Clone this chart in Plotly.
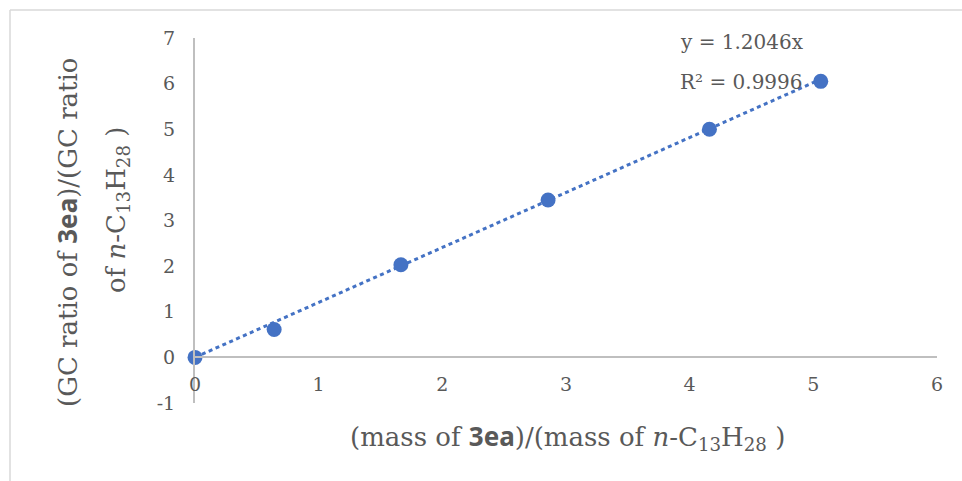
import plotly.graph_objects as go

# Calibration points: mass ratio vs GC peak-area ratio
mass_ratio = [0.0, 0.64, 1.665, 2.855, 4.16, 5.06]
gc_ratio = [0.0, 0.61, 2.03, 3.45, 5.0, 6.05]

# Linear fit through the origin
slope = 1.2046
r_squared = 0.9996

x_ticks = [0, 1, 2, 3, 4, 5, 6]
y_ticks = [-1, 0, 1, 2, 3, 4, 5, 6, 7]

W, H = 962, 481
L, R, T, B = 195, 25, 38, 78
plot_w = W - L - R
plot_h = H - T - B

def px_x(px):
    return (px - L) / plot_w

def px_y(py):
    return (H - B - py) / plot_h

blue = "#4472C4"
grey_text = "#595959"
axis_grey = "#BFBFBF"
serif = "DejaVu Serif, Liberation Serif, serif"
bold_sans = '<span style="font-family:Noto Sans, DejaVu Sans, sans-serif"><b>3ea</b></span>'
formula = "<i>n</i>-C<sub>13</sub>H<sub>28</sub> )"

fit_x = [min(mass_ratio), max(mass_ratio)]
fit_y = [slope * v for v in fit_x]

fig = go.Figure()
fig.add_trace(go.Scatter(
    x=fit_x, y=fit_y, mode="lines",
    line=dict(color=blue, width=3, dash="4px,3.5px"),
    hoverinfo="skip", showlegend=False, cliponaxis=False,
))
fig.add_trace(go.Scatter(
    x=mass_ratio, y=gc_ratio, mode="markers",
    marker=dict(color=blue, size=15),
    showlegend=False, cliponaxis=False,
))

fig.update_layout(
    width=W, height=H,
    margin=dict(l=L, r=R, t=T, b=B),
    paper_bgcolor="white", plot_bgcolor="white",
    font=dict(family=serif, color=grey_text, size=20),
    xaxis=dict(
        range=[0, 6], tickvals=x_ticks, ticktext=[str(v) for v in x_ticks],
        showgrid=False, zeroline=False, showline=True, linecolor=axis_grey,
        linewidth=2, ticks="", anchor="free", position=1 / 8,
        ticklabelstandoff=10,
        tickfont=dict(size=19, family=serif, color=grey_text),
    ),
    yaxis=dict(
        range=[-1, 7], tickvals=y_ticks, ticktext=[str(v) for v in y_ticks],
        showgrid=False, zeroline=False, showline=True, linecolor=axis_grey,
        linewidth=2, ticks="", ticklabelstandoff=14,
        tickfont=dict(size=19, family=serif, color=grey_text),
    ),
)

title_font = dict(size=26, family=serif, color=grey_text)
annotations = [
    dict(text=f"(mass of {bold_sans})/(mass of {formula}",
         x=px_x(567), y=px_y(436), xref="paper", yref="paper",
         showarrow=False, xanchor="center", yanchor="middle", font=title_font),
    dict(text=f"(GC ratio of {bold_sans})/(GC ratio",
         x=px_x(67), y=px_y(232), xref="paper", yref="paper", textangle=-90,
         showarrow=False, xanchor="center", yanchor="middle", font=title_font),
    dict(text=f"of {formula}",
         x=px_x(118), y=px_y(210), xref="paper", yref="paper", textangle=-90,
         showarrow=False, xanchor="center", yanchor="middle", font=title_font),
    dict(text=f"y = {slope}x",
         x=px_x(678), y=px_y(42), xref="paper", yref="paper",
         showarrow=False, xanchor="left", yanchor="middle",
         font=dict(size=20, family=serif, color=grey_text)),
    dict(text=f"R² = {r_squared}",
         x=px_x(678), y=px_y(82), xref="paper", yref="paper",
         showarrow=False, xanchor="left", yanchor="middle",
         font=dict(size=20, family=serif, color=grey_text)),
]
fig.update_layout(annotations=annotations)

# Outer frame edges
frame = "#D9D9D9"
fig.update_layout(shapes=[
    dict(type="line", xref="paper", yref="paper",
         x0=px_x(10), x1=px_x(W + 5), y0=px_y(10), y1=px_y(10),
         line=dict(color=frame, width=1.5)),
    dict(type="line", xref="paper", yref="paper",
         x0=px_x(10), x1=px_x(10), y0=px_y(10), y1=px_y(H + 5),
         line=dict(color=frame, width=1.5)),
])

fig.write_html("out.html")
